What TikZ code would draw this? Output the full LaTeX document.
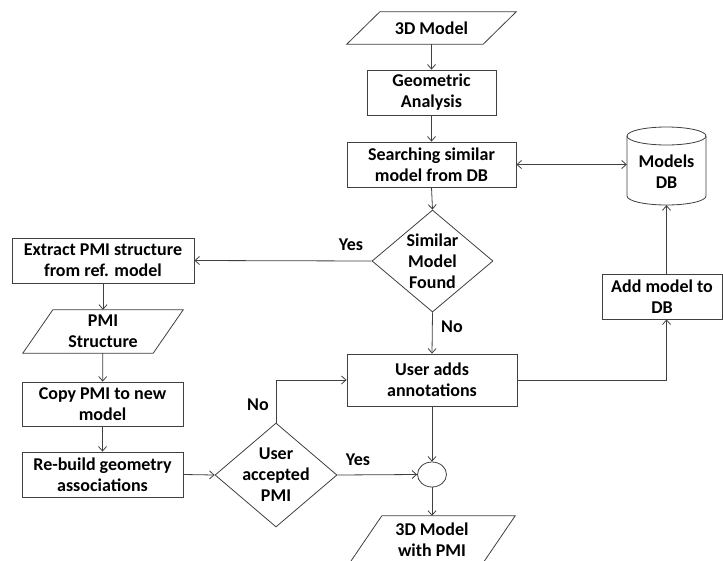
\documentclass[tikz,border=0pt]{standalone}
\usepackage{fontspec}
\setmainfont{Carlito}
\usetikzlibrary{arrows.meta,shapes.geometric,calc}
\begin{document}
\begin{tikzpicture}[x=1pt,y=-1pt,
  every node/.style={font=\bfseries\fontsize{18}{21}\selectfont, text=black},
  ln/.style={draw=black!75, line width=0.8pt},
  arr/.style={ln, -{Straight Barb[length=4.5pt,width=8pt]}},
  box/.style={ln, rectangle, align=center, inner sep=0pt},
  dia/.style={ln, diamond, align=center, inner sep=0pt},
  plain/.style={rectangle, align=center, inner sep=0pt},
  lbl/.style={inner sep=0pt}
]
\clip (0,0) rectangle (723,560);
\fill[white] (0,0) rectangle (723,560);
% cylinder outline
\draw[ln] (627,136) -- (627,196) arc[start angle=180, end angle=360, x radius=39.5, y radius=-9] -- (706,136);
\draw[ln] (666.5,136) ellipse[x radius=39.5, y radius=9];
% nodes
\node[plain, minimum width=169, minimum height=32] (in3d) at (431.5,28) {3D Model};
\node[box, minimum width=129, minimum height=45] (geo) at (431.5,92.5) {Geometric\\Analysis};
\node[box, minimum width=169, minimum height=45] (srch) at (431.5,164.5) {Searching similar\\model from DB};
\node[dia, minimum width=121, minimum height=102] (sim) at (432.5,261) {};
\node[align=center] at (432.5,261) {Similar\\Model\\Found};
\node[box, minimum width=170, minimum height=52] (user) at (432,380) {User adds\\annotations};
\node[plain, minimum width=79, minimum height=78] (db) at (666.5,166) {};
\node[align=center] at (666.5,172) {Models\\DB};
\node[box, minimum width=120, minimum height=45] (addm) at (662,296.5) {Add model to\\DB};
\node[box, minimum width=182, minimum height=45] (extr) at (103,260.5) {Extract PMI structure\\from ref. model};
\node[plain, minimum width=160, minimum height=43] (pmi) at (103,331.5) {PMI\\Structure};
\node[box, minimum width=161, minimum height=44] (copy) at (102.5,404) {Copy PMI to new\\model};
\node[box, minimum width=161, minimum height=45] (rebuild) at (102.5,474.5) {Re-build geometry\\associations};
\node[dia, minimum width=122, minimum height=104] (acc) at (276,475) {};
\node[align=center] at (276,475) {User\\accepted\\PMI};
\node[ln, ellipse, minimum width=29, minimum height=25, inner sep=0pt] (circ) at (432,474.5) {};
\node[plain, minimum width=166, minimum height=48] (out) at (432,540) {3D Model\\with PMI};
% parallelograms
\draw[ln] (in3d.south west) -- ($(in3d.north west)+(33,0)$) -- (in3d.north east) -- ($(in3d.south east)+(-33,0)$) -- cycle;
\draw[ln] (pmi.south west) -- ($(pmi.north west)+(30,0)$) -- (pmi.north east) -- ($(pmi.south east)+(-30,0)$) -- cycle;
\draw[ln] (out.south west) -- ($(out.north west)+(33,0)$) -- (out.north east) -- ($(out.south east)+(-33,0)$) -- cycle;
% connectors
\draw[arr] (in3d.south -| geo.north) -- (geo.north);
\draw[arr] (geo) -- (srch);
\draw[arr] (srch.south) -- (sim.north);
\draw[ln, {Straight Barb[length=4.5pt,width=8pt]}-{Straight Barb[length=4.5pt,width=8pt]}] (srch.east) -- (srch.east -| db.west);
\draw[arr] (sim.west) -- (extr.east);
\node[lbl] at (351,245) {Yes};
\draw[arr] (sim.south) -- (user.north);
\node[lbl] at (452,327) {No};
\draw[arr] (extr) -- (pmi);
\draw[arr] (pmi) -- (copy);
\draw[arr] (copy) -- (rebuild);
\draw[arr] (rebuild.east) -- (acc.west);
\draw[arr] (acc.north) |- (user.west);
\node[lbl] at (258,405) {No};
\draw[arr] (acc.east) -- (circ.west);
\node[lbl] at (358,460) {Yes};
\draw[arr] (user.south) -- (circ.north);
\draw[arr] (circ.south) -- (out.north -| circ.south);
\coordinate (addin) at (addm.south -| db.south);
\draw[arr] (user.east) -| (addin);
\draw[arr] (addm.north -| db.south) -- (db.south);
\end{tikzpicture}
\end{document}
